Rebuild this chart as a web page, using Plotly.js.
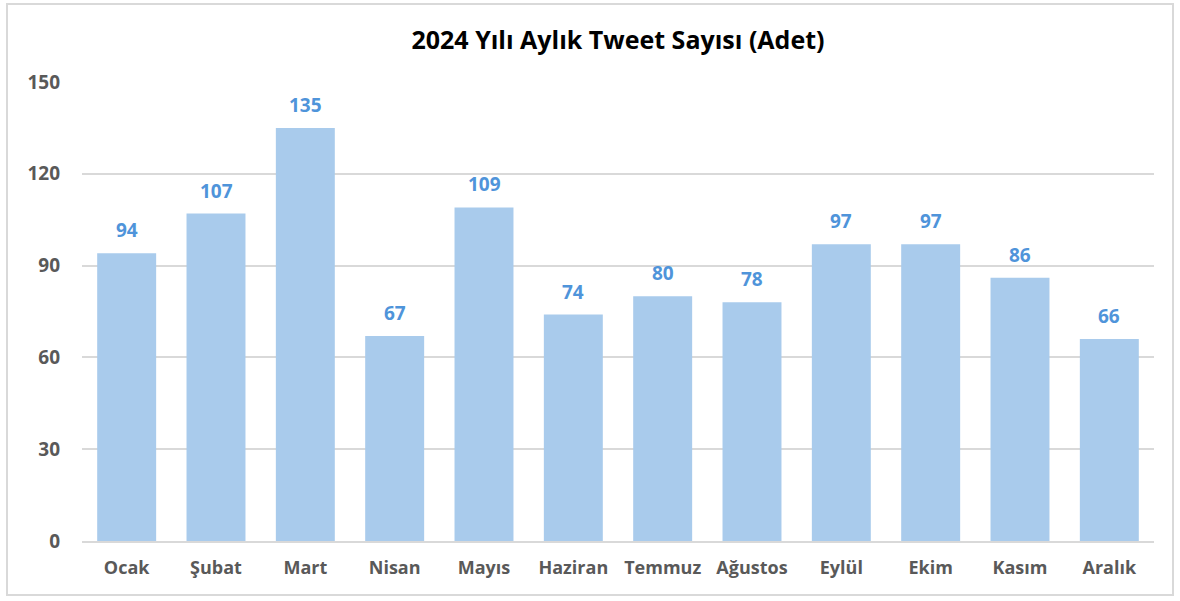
<!DOCTYPE html>
<html>
<head>
<meta charset="utf-8">
<script src="https://cdn.plot.ly/plotly-3.0.1.min.js"></script>
<style>
  html, body { margin: 0; padding: 0; background: #ffffff; }
  #chart { width: 1180px; height: 601px; }
</style>
</head>
<body>
<div id="chart"></div>
<script>
const months = ["Ocak", "Şubat", "Mart", "Nisan", "Mayıs", "Haziran", "Temmuz", "Ağustos", "Eylül", "Ekim", "Kasım", "Aralık"];
const tweetCounts = [94, 107, 135, 67, 109, 74, 80, 78, 97, 97, 86, 66];
const yTicks = [0, 30, 60, 90, 120, 150];
const chartTitle = "2024 Yılı Aylık Tweet Sayısı (Adet)";

const W = 1180, H = 601;
const M = { l: 82, r: 26, t: 82, b: 60 };
const pw = W - M.l - M.r, ph = H - M.t - M.b;
const px = v => (v - M.l) / pw;
const py = v => (H - M.b - v) / ph;

const fontFamily = "'Open Sans', 'Noto Sans', 'DejaVu Sans', sans-serif";

const trace = {
  type: "bar",
  x: months,
  y: tweetCounts,
  marker: { color: "#A9CBEC" },
  hoverinfo: "x+y"
};

const annotations = months.map((m, i) => ({
  x: m, y: tweetCounts[i], xref: "x", yref: "y",
  text: "<b>" + tweetCounts[i] + "</b>",
  showarrow: false, yanchor: "bottom", yshift: 8,
  font: { family: fontFamily, size: 19, color: "#4F94DA" }
}));

const layout = {
  width: W, height: H,
  margin: M,
  paper_bgcolor: "#ffffff",
  plot_bgcolor: "#ffffff",
  showlegend: false,
  bargap: 0.34,
  title: {
    text: "<b>" + chartTitle + "</b>",
    x: 0.5, xref: "paper", xanchor: "center",
    y: 1 - 40 / H, yref: "container", yanchor: "middle",
    font: { family: fontFamily, size: 25, color: "#000000" }
  },
  xaxis: {
    type: "category",
    showgrid: false,
    showline: true, linecolor: "#D9D9D9", linewidth: 2,
    ticks: "", ticklen: 0, ticklabelstandoff: 9,
    tickfont: { family: fontFamily, size: 18, color: "#595959", weight: "bold" },
    fixedrange: true
  },
  yaxis: {
    range: [0, 150],
    tickvals: yTicks,
    ticktext: yTicks.map(String),
    showgrid: true, gridcolor: "#D9D9D9", gridwidth: 2,
    zeroline: false, showline: false,
    ticks: "", ticklabelstandoff: 21,
    tickfont: { family: fontFamily, size: 19, color: "#595959", weight: "bold" },
    fixedrange: true
  },
  annotations: annotations,
  shapes: [{
    type: "rect", xref: "paper", yref: "paper",
    x0: px(7), x1: px(1173), y0: py(595), y1: py(4),
    line: { color: "#D9D9D9", width: 2 },
    fillcolor: "rgba(0,0,0,0)", layer: "below"
  }]
};

Plotly.newPlot("chart", [trace], layout, { displayModeBar: false, staticPlot: true });
</script>
</body>
</html>
